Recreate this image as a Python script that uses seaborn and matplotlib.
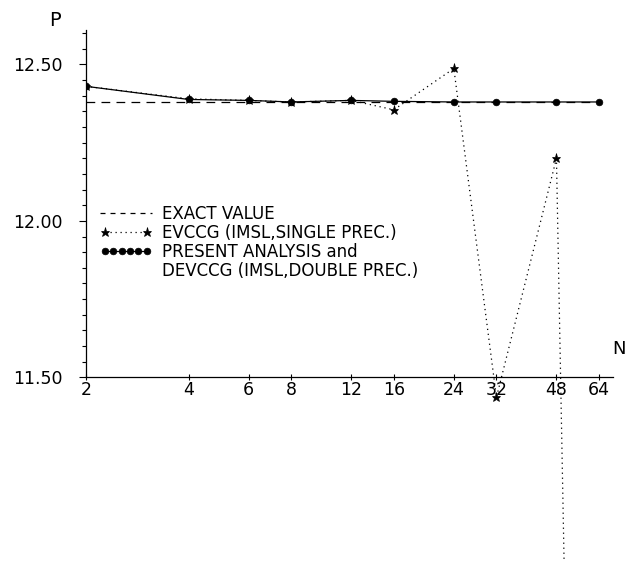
import matplotlib
matplotlib.use("Agg")
import matplotlib.pyplot as plt
import seaborn as sns
from matplotlib.lines import Line2D
from matplotlib.legend_handler import HandlerLine2D
from matplotlib.ticker import FixedLocator, FixedFormatter, NullLocator

# data
n_values = [2, 4, 6, 8, 12, 16, 24, 32, 48, 64]
x_labels = ["2", "4", "6", "8", "12", "16", "24", "32", "48", "64"]
exact_value = 12.38
present_p = [12.43, 12.388, 12.385, 12.38, 12.385, 12.382, 12.38, 12.38, 12.38, 12.38]
evccg_p = [12.43, 12.39, 12.385, 12.38, 12.385, 12.355, 12.487, 11.436, 12.20, 5.0]
y_major = [11.5, 12.0, 12.5]
y_minor = [11.5 + 0.05 * i for i in range(23)]
legend_labels = ["EXACT VALUE", "EVCCG (IMSL,SINGLE PREC.)",
                 "PRESENT ANALYSIS and", "DEVCCG (IMSL,DOUBLE PREC.)"]

sns.set_theme(style="white")
plt.rcParams['font.family'] = ['DejaVu Sans']
plt.rcParams['text.color'] = 'black'
plt.rcParams['xtick.color'] = 'black'
plt.rcParams['ytick.color'] = 'black'

fig = plt.figure(figsize=(6.27, 5.61), dpi=100)
ax = fig.add_axes([86 / 627, 0, 527 / 627, 531 / 561])

mk = dict(markeredgecolor="black", markerfacecolor="black", markeredgewidth=0.5)
sns.lineplot(x=n_values, y=[exact_value] * len(n_values), ax=ax, color="black",
             linewidth=0.9, linestyle=(0, (7, 5)), sort=False)
sns.lineplot(x=n_values, y=evccg_p, ax=ax, color="black", linewidth=0.9,
             linestyle=(0, (1, 3)), marker="*", markersize=6.5, sort=False, **mk)
sns.lineplot(x=n_values, y=present_p, ax=ax, color="black", linewidth=0.9,
             linestyle="-", marker="o", markersize=4.8, sort=False, **mk)

ax.set_xscale("log", base=2)
ax.set_xlim(2, 2 ** 6.136)
ax.set_ylim(10.913, 12.61)

for s in ["top", "right"]:
    ax.spines[s].set_visible(False)
ax.spines["bottom"].set_position(("data", 11.5))
ax.spines["left"].set_bounds(11.5, 12.61)
for s in ["left", "bottom"]:
    ax.spines[s].set_color("black")
    ax.spines[s].set_linewidth(0.9)

ax.xaxis.set_major_locator(FixedLocator(n_values))
ax.xaxis.set_major_formatter(FixedFormatter(x_labels))
ax.xaxis.set_minor_locator(NullLocator())
ax.yaxis.set_major_locator(FixedLocator(y_major))
ax.yaxis.set_major_formatter(FixedFormatter(["11.50", "12.00", "12.50"]))
ax.yaxis.set_minor_locator(FixedLocator(y_minor))

ax.tick_params(axis="x", which="major", direction="inout", length=4, width=0.8,
               labelsize=12.5, pad=1, bottom=True)
ax.tick_params(axis="y", which="major", direction="out", length=5, width=0.8,
               labelsize=12.5, pad=12, left=True)
ax.tick_params(axis="y", which="minor", direction="out", length=3, width=0.8,
               left=True)

fig.text(55 / 627, 1 - 21 / 561, "P", fontsize=14, ha="center", va="center")
fig.text(626 / 627, 1 - 349 / 561, "N", fontsize=13, ha="right", va="center")

h1 = Line2D([], [], color="black", lw=0.9, ls=(0, (4, 4)))
h2 = Line2D([], [], color="black", lw=0.9, ls=(0, (1, 3)), marker="*", ms=6.5, **mk)
h3 = Line2D([], [], color="black", lw=0.9, ls="-", marker="o", ms=4.8, **mk)
h4 = Line2D([], [], color="none")
ax.legend([h1, h2, h3, h4], legend_labels, loc="upper left",
          bbox_to_anchor=(100 / 627, 1 - 205 / 561), bbox_transform=fig.transFigure,
          frameon=False, fontsize=12, handlelength=3.1, handletextpad=0.65,
          labelspacing=0.06, borderpad=0, borderaxespad=0,
          handler_map={h2: HandlerLine2D(numpoints=2), h3: HandlerLine2D(numpoints=6)})

fig.savefig("out.png", dpi=100)
